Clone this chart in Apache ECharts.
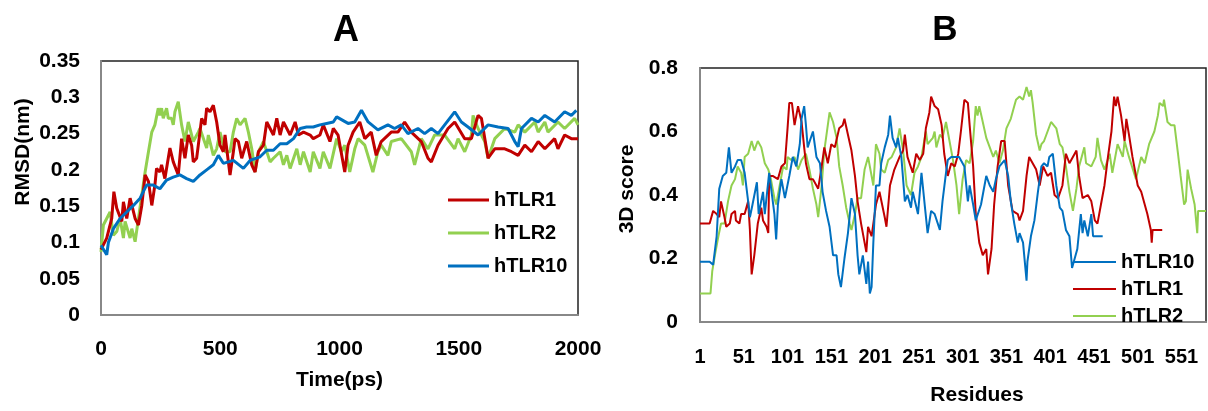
<!DOCTYPE html>
<html>
<head>
<meta charset="utf-8">
<script src="https://cdn.jsdelivr.net/npm/echarts@6/dist/echarts.min.js"></script>
<style>
html, body { margin: 0; padding: 0; background: #fff; }
#chart { width: 1208px; height: 411px; }
</style>
</head>
<body>
<div id="chart"></div>
<script>
// panel A: RMSD (nm) vs time (ps)
var rmsdTLR1 = [[0,0.09],[24,0.106],[45,0.133],[54,0.17],[66,0.147],[87,0.129],[94,0.156],[108,0.133],[122,0.161],[143,0.133],[157,0.124],[171,0.151],[185,0.193],[199,0.184],[213,0.151],[226,0.179],[233,0.202],[247,0.197],[254,0.207],[268,0.188],[289,0.23],[303,0.211],[324,0.193],[338,0.243],[352,0.216],[366,0.248],[380,0.234],[387,0.211],[401,0.216],[408,0.234],[422,0.271],[436,0.262],[443,0.285],[457,0.28],[471,0.289],[485,0.266],[499,0.234],[513,0.225],[520,0.248],[534,0.211],[541,0.193],[555,0.225],[562,0.243],[576,0.239],[590,0.216],[611,0.239],[632,0.207],[646,0.197],[660,0.225],[681,0.234],[695,0.266],[709,0.257],[723,0.248],[737,0.271],[751,0.248],[765,0.266],[793,0.248],[814,0.266],[828,0.248],[849,0.252],[877,0.248],[890,0.243],[918,0.248],[932,0.262],[960,0.239],[974,0.257],[994,0.248],[1022,0.197],[1036,0.234],[1057,0.252],[1085,0.266],[1106,0.243],[1133,0.252],[1154,0.22],[1175,0.239],[1217,0.252],[1245,0.252],[1273,0.266],[1301,0.252],[1343,0.239],[1371,0.216],[1385,0.211],[1413,0.234],[1455,0.257],[1483,0.266],[1525,0.243],[1553,0.243],[1581,0.275],[1595,0.271],[1623,0.216],[1651,0.229],[1693,0.229],[1721,0.225],[1749,0.22],[1777,0.234],[1805,0.225],[1833,0.239],[1861,0.229],[1902,0.243],[1916,0.229],[1944,0.248],[1972,0.243],[2000,0.243]];
var rmsdTLR2 = [[0,0.087],[10,0.124],[24,0.133],[38,0.142],[52,0.11],[66,0.115],[80,0.133],[94,0.106],[101,0.129],[122,0.106],[129,0.119],[143,0.101],[157,0.133],[171,0.165],[185,0.197],[199,0.225],[213,0.252],[226,0.262],[240,0.285],[247,0.275],[254,0.285],[261,0.271],[275,0.285],[282,0.271],[296,0.271],[303,0.262],[310,0.28],[324,0.294],[338,0.262],[352,0.239],[366,0.266],[387,0.239],[408,0.252],[415,0.257],[443,0.23],[450,0.248],[471,0.22],[485,0.229],[499,0.252],[520,0.225],[541,0.225],[555,0.252],[569,0.271],[583,0.262],[604,0.271],[618,0.252],[632,0.229],[646,0.197],[660,0.225],[681,0.239],[709,0.211],[723,0.216],[751,0.225],[765,0.207],[779,0.22],[793,0.202],[821,0.229],[835,0.207],[849,0.225],[877,0.197],[890,0.225],[918,0.202],[932,0.225],[960,0.202],[988,0.243],[1008,0.225],[1022,0.234],[1043,0.197],[1064,0.229],[1078,0.243],[1106,0.234],[1140,0.197],[1161,0.225],[1175,0.234],[1203,0.22],[1217,0.239],[1259,0.243],[1301,0.225],[1315,0.207],[1343,0.243],[1371,0.229],[1399,0.248],[1441,0.248],[1483,0.229],[1497,0.243],[1525,0.225],[1553,0.248],[1560,0.275],[1581,0.257],[1609,0.239],[1623,0.216],[1651,0.243],[1693,0.257],[1735,0.252],[1749,0.262],[1777,0.252],[1819,0.266],[1833,0.252],[1861,0.266],[1874,0.252],[1916,0.266],[1944,0.257],[1986,0.271],[2000,0.262]];
var rmsdTLR10 = [[0,0.096],[24,0.083],[31,0.10],[52,0.119],[80,0.133],[108,0.142],[136,0.151],[164,0.161],[191,0.179],[219,0.179],[247,0.174],[275,0.186],[303,0.19],[331,0.193],[359,0.188],[387,0.184],[415,0.193],[443,0.20],[471,0.207],[492,0.22],[513,0.209],[555,0.213],[597,0.202],[625,0.213],[667,0.218],[695,0.227],[723,0.227],[751,0.236],[779,0.236],[807,0.243],[835,0.257],[862,0.259],[890,0.259],[918,0.262],[946,0.264],[974,0.266],[988,0.273],[1036,0.264],[1064,0.266],[1092,0.282],[1120,0.266],[1161,0.255],[1203,0.262],[1231,0.257],[1259,0.262],[1287,0.25],[1329,0.257],[1357,0.25],[1385,0.257],[1413,0.25],[1441,0.262],[1483,0.28],[1511,0.266],[1539,0.259],[1581,0.248],[1623,0.262],[1665,0.259],[1707,0.257],[1735,0.239],[1749,0.232],[1763,0.257],[1805,0.271],[1833,0.266],[1861,0.275],[1902,0.266],[1944,0.28],[1972,0.275],[1993,0.282]];

// panel B: 3D score vs residue
var scoreTLR1 = [[1,0.31],[12,0.31],[16,0.35],[20,0.34],[23,0.33],[25,0.38],[29,0.33],[31,0.30],[35,0.31],[37,0.34],[41,0.35],[42,0.32],[46,0.31],[48,0.34],[52,0.34],[56,0.38],[58,0.29],[60,0.15],[63,0.21],[67,0.31],[71,0.36],[73,0.32],[77,0.30],[79,0.28],[80,0.46],[84,0.46],[90,0.45],[94,0.49],[98,0.50],[101,0.61],[103,0.69],[106,0.69],[109,0.62],[113,0.68],[117,0.63],[120,0.55],[122,0.50],[126,0.45],[130,0.45],[136,0.42],[140,0.49],[143,0.55],[147,0.50],[151,0.56],[155,0.55],[160,0.61],[164,0.62],[166,0.64],[170,0.59],[174,0.54],[178,0.46],[181,0.38],[185,0.31],[189,0.25],[191,0.22],[193,0.30],[197,0.27],[199,0.27],[202,0.37],[206,0.41],[212,0.33],[214,0.30],[218,0.43],[223,0.48],[229,0.52],[233,0.54],[235,0.59],[238,0.52],[244,0.47],[248,0.53],[252,0.51],[256,0.53],[259,0.61],[263,0.66],[265,0.71],[269,0.68],[273,0.67],[277,0.62],[280,0.53],[284,0.46],[288,0.50],[292,0.49],[296,0.53],[299,0.60],[303,0.70],[307,0.69],[309,0.62],[313,0.49],[316,0.34],[320,0.25],[324,0.21],[328,0.23],[330,0.15],[334,0.23],[337,0.37],[341,0.49],[345,0.57],[349,0.57],[353,0.43],[358,0.35],[364,0.34],[366,0.32],[370,0.35],[374,0.46],[377,0.52],[381,0.50],[385,0.48],[389,0.43],[393,0.49],[398,0.46],[402,0.47],[406,0.40],[410,0.39],[415,0.43],[419,0.53],[423,0.50],[429,0.53],[431,0.54],[434,0.46],[438,0.39],[444,0.40],[448,0.38],[452,0.32],[455,0.31],[459,0.37],[463,0.43],[467,0.52],[471,0.60],[474,0.71],[476,0.68],[478,0.71],[482,0.65],[486,0.57],[488,0.64],[491,0.59],[495,0.52],[501,0.43],[505,0.41],[509,0.37],[512,0.34],[516,0.29],[517,0.25],[518,0.29],[529,0.29]];
var scoreTLR2 = [[1,0.09],[13,0.09],[15,0.16],[18,0.21],[22,0.27],[25,0.31],[29,0.31],[33,0.38],[37,0.43],[41,0.45],[44,0.49],[48,0.47],[50,0.43],[52,0.52],[56,0.53],[60,0.57],[63,0.54],[67,0.57],[71,0.55],[75,0.50],[79,0.48],[82,0.45],[86,0.39],[88,0.37],[92,0.43],[96,0.49],[100,0.48],[101,0.52],[105,0.51],[109,0.52],[113,0.48],[117,0.51],[122,0.53],[126,0.48],[130,0.42],[134,0.37],[136,0.33],[140,0.43],[143,0.54],[147,0.62],[149,0.66],[153,0.63],[157,0.58],[160,0.49],[164,0.43],[168,0.36],[172,0.31],[174,0.29],[178,0.34],[181,0.39],[185,0.39],[189,0.48],[193,0.52],[199,0.43],[202,0.56],[206,0.53],[208,0.48],[212,0.47],[216,0.51],[220,0.52],[225,0.55],[229,0.61],[233,0.54],[237,0.43],[242,0.40],[246,0.47],[250,0.49],[254,0.52],[259,0.60],[261,0.56],[267,0.58],[269,0.60],[271,0.55],[275,0.59],[278,0.58],[282,0.63],[286,0.57],[290,0.51],[294,0.43],[297,0.34],[301,0.45],[305,0.51],[309,0.50],[313,0.57],[316,0.68],[318,0.65],[320,0.68],[324,0.63],[328,0.58],[332,0.55],[336,0.52],[339,0.54],[343,0.50],[347,0.54],[351,0.61],[356,0.64],[360,0.68],[362,0.70],[366,0.71],[370,0.70],[374,0.74],[377,0.71],[379,0.73],[381,0.69],[385,0.59],[389,0.54],[391,0.56],[394,0.57],[402,0.63],[408,0.61],[412,0.56],[415,0.55],[419,0.49],[423,0.41],[427,0.35],[431,0.42],[434,0.49],[440,0.55],[442,0.50],[448,0.49],[453,0.52],[455,0.58],[459,0.51],[463,0.48],[469,0.53],[472,0.47],[478,0.56],[484,0.52],[486,0.57],[491,0.52],[499,0.45],[505,0.52],[509,0.50],[514,0.56],[520,0.60],[524,0.65],[526,0.69],[530,0.68],[531,0.70],[535,0.63],[539,0.62],[543,0.62],[547,0.53],[550,0.46],[554,0.37],[556,0.38],[558,0.48],[562,0.42],[566,0.37],[569,0.28],[570,0.35],[579,0.35]];
var scoreTLR10 = [[1,0.19],[12,0.19],[16,0.18],[20,0.27],[23,0.42],[27,0.46],[31,0.47],[34,0.55],[37,0.47],[41,0.49],[44,0.51],[48,0.51],[52,0.47],[56,0.38],[58,0.33],[61,0.37],[66,0.44],[68,0.34],[73,0.41],[75,0.34],[80,0.47],[86,0.34],[88,0.26],[90,0.37],[94,0.45],[98,0.39],[103,0.46],[107,0.52],[111,0.49],[115,0.56],[117,0.64],[120,0.68],[122,0.62],[124,0.55],[130,0.60],[134,0.52],[138,0.50],[141,0.41],[145,0.35],[149,0.30],[153,0.21],[157,0.21],[159,0.15],[162,0.11],[166,0.20],[170,0.28],[174,0.39],[178,0.34],[181,0.21],[183,0.15],[187,0.21],[191,0.12],[193,0.19],[195,0.09],[197,0.11],[199,0.25],[202,0.43],[206,0.43],[208,0.50],[212,0.55],[216,0.59],[218,0.65],[221,0.58],[225,0.55],[227,0.58],[231,0.52],[235,0.38],[238,0.40],[242,0.36],[244,0.41],[250,0.34],[254,0.47],[258,0.36],[261,0.28],[265,0.35],[269,0.34],[275,0.29],[278,0.38],[282,0.47],[284,0.51],[288,0.52],[292,0.52],[297,0.52],[303,0.49],[307,0.38],[309,0.43],[313,0.37],[316,0.32],[322,0.37],[328,0.46],[332,0.43],[336,0.41],[339,0.45],[343,0.49],[349,0.51],[353,0.46],[356,0.38],[360,0.31],[364,0.25],[366,0.28],[370,0.25],[372,0.19],[374,0.13],[375,0.19],[379,0.27],[383,0.32],[387,0.41],[391,0.49],[394,0.50],[398,0.49],[400,0.52],[404,0.53],[408,0.43],[412,0.36],[415,0.35],[419,0.29],[423,0.27],[426,0.17],[429,0.20],[432,0.23],[436,0.34],[438,0.28],[440,0.32],[444,0.27],[448,0.34],[450,0.27],[461,0.27]];

var residueTicks = [1, 51, 101, 151, 201, 251, 301, 351, 401, 451, 501, 551];

var cRed = '#c00000', cGreen = '#92d050', cBlue = '#0070c0';
var font = 'Liberation Sans, Arial, sans-serif';
var txt = { color: '#000', fontWeight: 'bold', fontFamily: font, fontSize: 21 };

var myChart = echarts.init(document.getElementById('chart'));

function lineSeries(name, data, color, idx, width) {
    return {
        name: name,
        type: 'line',
        xAxisIndex: idx,
        yAxisIndex: idx,
        data: data,
        symbol: 'none',
        animation: false,
        lineStyle: { color: color, width: width },
        itemStyle: { color: color }
    };
}

myChart.setOption({
    backgroundColor: '#fff',
    animation: false,
    title: [
        { text: 'A', left: 341, top: 8, textAlign: 'center', textStyle: { fontSize: 36, fontWeight: 'bold', fontFamily: font, color: '#000' } },
        { text: 'B', left: 940, top: 8, textAlign: 'center', textStyle: { fontSize: 35, fontWeight: 'bold', fontFamily: font, color: '#000' } }
    ],
    legend: [
        {
            data: ['hTLR1', 'hTLR2', 'hTLR10'],
            orient: 'vertical', left: 443, top: 185,
            icon: 'rect', itemWidth: 41, itemHeight: 3, itemGap: 13,
            textStyle: { color: '#000', fontWeight: 'bold', fontFamily: font, fontSize: 20 }
        },
        {
            data: ['hTLR10', 'hTLR1', 'hTLR2'],
            orient: 'vertical', left: 1068, top: 247,
            icon: 'rect', itemWidth: 43, itemHeight: 2, itemGap: 7,
            textStyle: { color: '#000', fontWeight: 'bold', fontFamily: font, fontSize: 20 }
        }
    ],
    grid: [
        { left: 101, top: 61, width: 477, height: 254, show: true, borderColor: '#222', borderWidth: 1.5 },
        { left: 700, top: 68, width: 506, height: 260, show: true, borderColor: '#222', borderWidth: 1.5 }
    ],
    xAxis: [
        {
            gridIndex: 0, type: 'value', min: 0, max: 2000, interval: 500,
            name: 'Time(ps)', nameLocation: 'middle', nameGap: 55, nameTextStyle: txt,
            axisLine: { show: true, lineStyle: { color: '#888', width: 2 } },
            axisTick: { show: false },
            splitLine: { show: false },
            axisLabel: {
                margin: 24, color: '#000', fontWeight: 'bold', fontFamily: font, fontSize: 21,
                formatter: function (v) { return String(v); }
            }
        },
        {
            gridIndex: 1, type: 'value', min: 1, max: 579,
            name: 'Residues', nameLocation: 'middle', nameGap: 63,
            nameTextStyle: Object.assign({}, txt, { padding: [0, 0, 0, 48] }),
            axisLine: { show: true, lineStyle: { color: '#888', width: 2 } },
            axisTick: { show: false },
            splitLine: { show: false },
            axisLabel: {
                customValues: residueTicks, margin: 25, color: '#000', fontWeight: 'bold', fontFamily: font, fontSize: 20,
                formatter: function (v) { return String(v); }
            }
        }
    ],
    yAxis: [
        {
            gridIndex: 0, type: 'value', min: 0, max: 0.35, interval: 0.05,
            name: 'RMSD(nm)', nameLocation: 'middle', nameGap: 67,
            nameTextStyle: Object.assign({}, txt, { padding: [0, 0, 0, 72] }),
            axisLine: { show: true, lineStyle: { color: '#888', width: 2 } },
            axisTick: { show: false },
            splitLine: { show: false },
            axisLabel: { margin: 21, color: '#000', fontWeight: 'bold', fontFamily: font, fontSize: 21 }
        },
        {
            gridIndex: 1, type: 'value', min: 0, max: 0.8, interval: 0.2,
            name: '3D score', nameLocation: 'middle', nameGap: 62,
            nameTextStyle: Object.assign({}, txt, { padding: [0, 0, 0, 12] }),
            axisLine: { show: true, lineStyle: { color: '#888', width: 2 } },
            axisTick: { show: false },
            splitLine: { show: false },
            axisLabel: { margin: 22, color: '#000', fontWeight: 'bold', fontFamily: font, fontSize: 21 }
        }
    ],
    series: [
        lineSeries('hTLR2', rmsdTLR2, cGreen, 0, 3),
        lineSeries('hTLR1', rmsdTLR1, cRed, 0, 3),
        lineSeries('hTLR10', rmsdTLR10, cBlue, 0, 3),
        lineSeries('hTLR2', scoreTLR2, cGreen, 1, 2),
        lineSeries('hTLR1', scoreTLR1, cRed, 1, 2),
        lineSeries('hTLR10', scoreTLR10, cBlue, 1, 2)
    ]
});
</script>
</body>
</html>
